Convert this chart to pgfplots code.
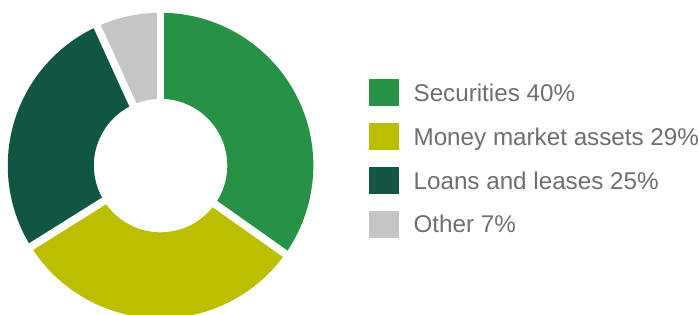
\documentclass[border=0pt]{standalone}
\usepackage{fontspec}
\setmainfont{Liberation Sans}
\usepackage{pgfplots}
\usepackage{pgfplotstable}
\pgfplotsset{compat=1.18}
\definecolor{secgreen}{RGB}{39,145,70}
\definecolor{mmyellow}{RGB}{188,190,0}
\definecolor{loangreen}{RGB}{16,86,66}
\definecolor{othergray}{RGB}{197,197,197}
\definecolor{txtgray}{RGB}{109,110,113}

% name, labelled share, share as drawn, colour
\pgfplotstableread[col sep=comma]{
name,share,drawn,color
Securities,40,34.8,secgreen
Money market assets,29,31.3,mmyellow
Loans and leases,25,27.1,loangreen
Other,7,6.8,othergray
}\piedata

\begin{document}
\begin{tikzpicture}
\begin{axis}[
  x=1pt, y=1pt,
  xmin=0, xmax=699, ymin=0, ymax=308,
  enlargelimits=false,
  disabledatascaling,
  hide axis,
  clip=true,
]
\def\cx{164.6}\def\cy{146}\def\ri{65.3}\def\ro{149.5}
\pgfmathsetmacro\cum{0}
\pgfplotsforeachungrouped \i in {0,...,3}{%
  \pgfplotstablegetelem{\i}{drawn}\of\piedata \let\vv\pgfplotsretval
  \pgfplotstablegetelem{\i}{color}\of\piedata \let\cc\pgfplotsretval
  \pgfmathsetmacro\aa{90-3.6*\cum}%
  \pgfmathsetmacro\bb{90-3.6*(\cum+\vv)}%
  \pgfmathsetmacro\xa{\cx+\ri*cos(\aa)}%
  \pgfmathsetmacro\ya{\cy+\ri*sin(\aa)}%
  \pgfmathsetmacro\xb{\cx+\ri*cos(\bb)}%
  \pgfmathsetmacro\yb{\cy+\ri*sin(\bb)}%
  \pgfmathsetmacro\xo{\cx+\ro*cos(\aa)}%
  \pgfmathsetmacro\yo{\cy+\ro*sin(\aa)}%
  \edef\temp{\noexpand\fill[\cc] (axis cs:\xo,\yo) arc[start angle=\aa,end angle=\bb,radius=\ro pt] -- (axis cs:\xb,\yb) arc[start angle=\bb,end angle=\aa,radius=\ri pt] -- cycle;}%
  \temp
  \pgfmathsetmacro\cum{\cum+\vv}%
}
\pgfmathsetmacro\cum{0}
\pgfplotsforeachungrouped \i in {0,...,3}{%
  \pgfplotstablegetelem{\i}{drawn}\of\piedata \let\vv\pgfplotsretval
  \pgfmathsetmacro\aa{90-3.6*\cum}%
  \pgfmathsetmacro\xa{\cx+55*cos(\aa)}%
  \pgfmathsetmacro\ya{\cy+55*sin(\aa)}%
  \pgfmathsetmacro\xo{\cx+160*cos(\aa)}%
  \pgfmathsetmacro\yo{\cy+160*sin(\aa)}%
  \edef\temp{\noexpand\draw[white, line width=7.5pt] (axis cs:\xa,\ya) -- (axis cs:\xo,\yo);}%
  \temp
  \pgfmathsetmacro\cum{\cum+\vv}%
}
% legend
\pgfplotsforeachungrouped \i in {0,...,3}{%
  \pgfplotstablegetelem{\i}{name}\of\piedata \let\nn\pgfplotsretval
  \pgfplotstablegetelem{\i}{share}\of\piedata \let\ss\pgfplotsretval
  \pgfplotstablegetelem{\i}{color}\of\piedata \let\cc\pgfplotsretval
  \pgfmathsetmacro\yt{308-77.3-42.9*\i}%
  \pgfmathsetmacro\yb{\yt-26.8}%
  \pgfmathsetmacro\yl{\yt-13.4-8.5}%
  \edef\temp{\noexpand\fill[\cc] (axis cs:368.3,\yt) rectangle (axis cs:398.3,\yb);
    \noexpand\node[anchor=base west, inner sep=0pt, text=txtgray, font=\noexpand\fontsize{23.7}{28}\noexpand\selectfont] at (axis cs:412,\yl) {\nn\space\ss\noexpand\%};}%
  \temp
}
\end{axis}
\end{tikzpicture}
\end{document}
